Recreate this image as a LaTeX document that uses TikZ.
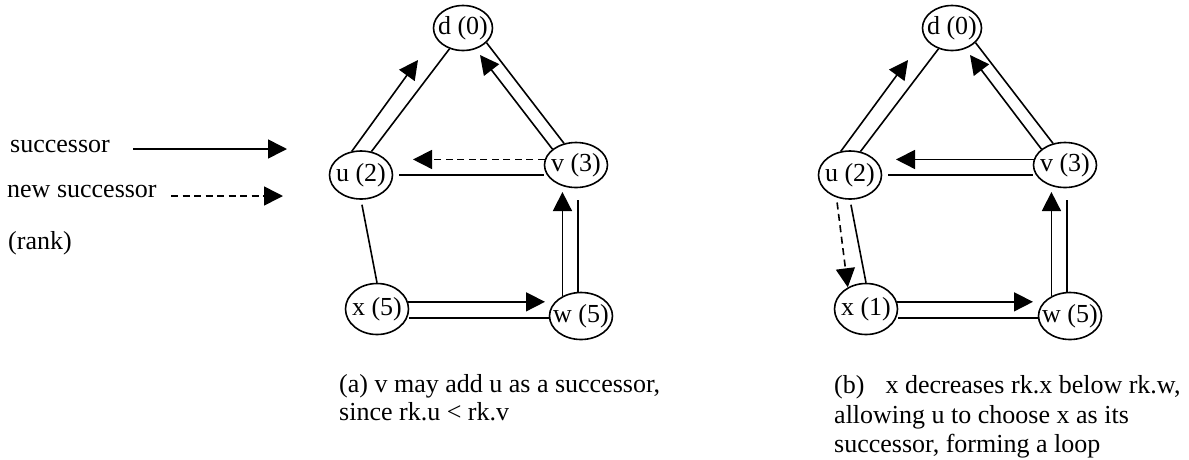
\documentclass[tikz,border=0pt]{standalone}
\usepackage{fontspec}
\setmainfont{Liberation Serif}
\usetikzlibrary{arrows.meta,shapes.geometric,calc}
\begin{document}
\begin{tikzpicture}[x=1pt,y=-1pt,
  every node/.style={font=\fontsize{26}{29}\selectfont},
  st/.style={draw,ellipse,line width=1.6pt,inner sep=0pt,minimum width=63pt,minimum height=48pt},
  link/.style={line width=1.6pt},
  succ/.style={line width=1.6pt,-{Triangle[length=19pt,width=19pt]}},
  nsucc/.style={succ,dash pattern=on 7pt off 4.5pt},
  txt/.style={anchor=base west,inner sep=0pt}]
\useasboundingbox (0,0) rectangle (1189,459);

% legend
\node[txt] (l1) at (10,152) {successor};
\node[txt] (l2) at (7,197) {new successor};
\node[txt] (l3) at (8,249) {(rank)};
\coordinate (l1a) at (133,149);
\coordinate (l1b) at (287,149);
\coordinate (l2a) at (171,196);
\coordinate (l2b) at (283,196);
\draw[succ] (l1a) -- (l1b);
\draw[nsucc] (l2a) -- (l2b);

% panel (a)
\node[st,minimum width=59pt,minimum height=45pt] (da) at (463,28) {\makebox[0pt]{d (0)}};
\node[st] (ua) at (361,175) {\makebox[0pt]{u (2)}};
\node[st,minimum height=45pt] (va) at (576,165) {\makebox[0pt]{v (3)}};
\node[st,minimum height=51pt] (xa) at (377,309) {\makebox[0pt]{x (5)}};
\node[st,minimum height=47pt] (wa) at (581,316) {\makebox[0pt]{w (5)}};
\coordinate (tud) at (418,60);
\coordinate (tvd) at (480,55);
\coordinate (tvu) at (413,0);
\coordinate (txw) at (545,0);
\coordinate (twv) at (0,192);
\coordinate (tvb) at (0,200);
\draw[link] (ua.66) -- (da.237);
\draw[succ] (ua.111) -- (tud);
\draw[link] (va.119) -- (da.-32);
\draw[succ] (va.146) -- (tvd);
\draw[nsucc] (va.170) -- (tvu |- va.170);
\draw[link,shorten <=6pt] (ua.east) -- (ua.east -| va.west);
\draw[link,shorten <=5pt] (ua.south) -- (xa.north);
\draw[succ] (xa.13) -- (txw |- xa.13);
\draw[link,transform canvas={yshift=-2pt}] (wa.west -| xa.east) -- (wa.west);
\draw[succ] (wa.133) -- (twv -| wa.133);
\draw[link,transform canvas={xshift=-3pt}] (wa.north) -- (wa.north |- tvb);
\node[txt] (ca1) at (339,392.7) {(a) v may add u as a successor,};
\node[txt] (ca2) at (339,420.7) {since rk.u < rk.v};

% panel (b)
\node[st,minimum width=59pt,minimum height=45pt] (db) at (952,28) {\makebox[0pt]{d (0)}};
\node[st] (ub) at (850,175) {\makebox[0pt]{u (2)}};
\node[st,minimum height=45pt] (vb) at (1065,165) {\makebox[0pt]{v (3)}};
\node[st,minimum height=51pt] (xb) at (866,309) {\makebox[0pt]{x (1)}};
\node[st,minimum height=47pt] (wb) at (1070,316) {\makebox[0pt]{w (5)}};
\coordinate (tudb) at (908,60);
\coordinate (tvdb) at (970,55);
\coordinate (tvub) at (896,0);
\coordinate (txwb) at (1033,0);
\draw[link] (ub.66) -- (db.237);
\draw[succ] (ub.111) -- (tudb);
\draw[link] (vb.119) -- (db.-32);
\draw[succ] (vb.146) -- (tvdb);
\draw[succ] (vb.170) -- (tvub |- vb.170);
\draw[link,shorten <=6pt] (ub.east) -- (ub.east -| vb.west);
\draw[link,shorten <=5pt] (ub.south) -- (xb.north);
\draw[nsucc,shorten <=5pt] (ub.-121) -- (xb.130);
\draw[succ] (xb.13) -- (txwb |- xb.13);
\draw[link,transform canvas={yshift=-2pt}] (wb.west -| xb.east) -- (wb.west);
\draw[succ] (wb.133) -- (twv -| wb.133);
\draw[link,transform canvas={xshift=-3pt}] (wb.north) -- (wb.north |- tvb);
\node[txt] (cb1) at (834,393.5) {(b)\hspace*{21pt}x decreases rk.x below rk.w,};
\node[txt] (cb2) at (834,423.5) {allowing u to choose x as its};
\node[txt] (cb3) at (834,452) {successor, forming a loop};
\end{tikzpicture}
\end{document}
